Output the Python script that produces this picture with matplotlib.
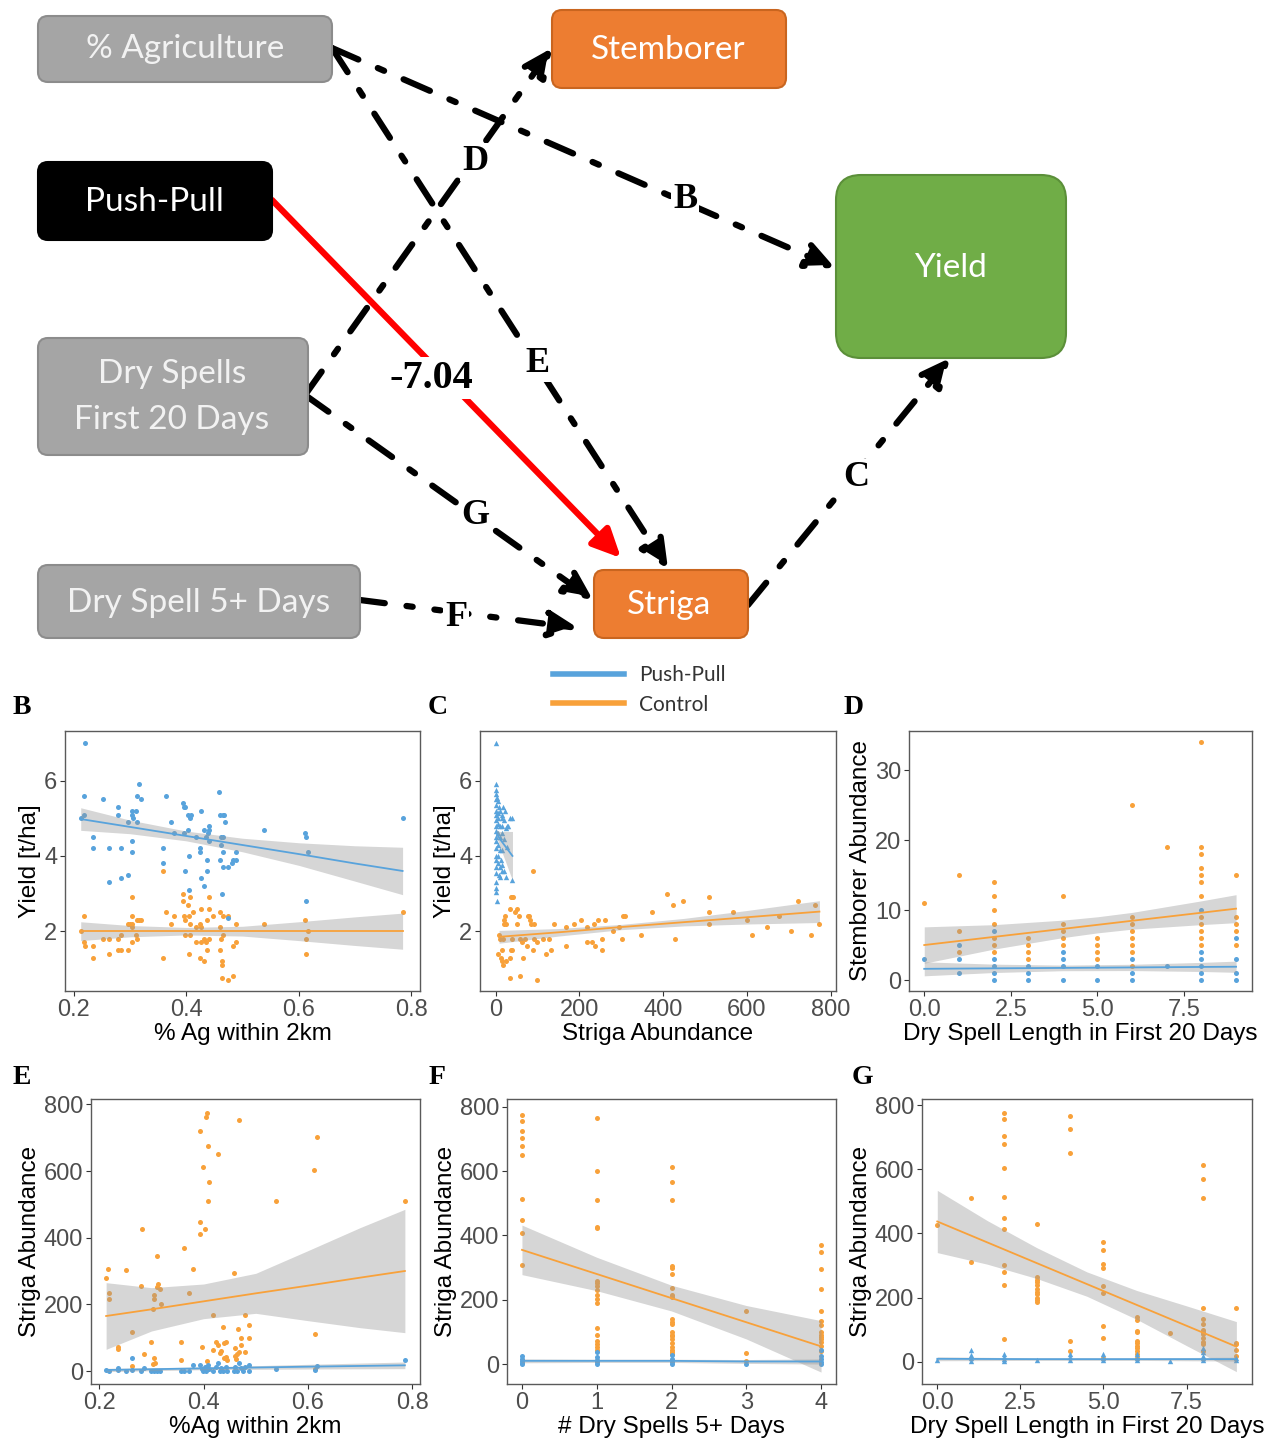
import numpy as np
import matplotlib.pyplot as plt
from matplotlib.patches import FancyBboxPatch
from matplotlib.lines import Line2D

plt.rcParams['font.family'] = ['Liberation Sans', 'DejaVu Sans']

W, H = 1273, 1443
BLUE = '#58a3dc'
ORANGE = '#f8a13a'

# ---------------- data ----------------
# B: yield vs % ag within 2km
b_pp = [(0.220, 7.0), (0.217, 5.6), (0.217, 5.1), (0.212, 5.0), (0.234, 4.5), (0.234, 4.2), (0.252, 5.5),
        (0.262, 4.2), (0.262, 3.3), (0.278, 5.3), (0.278, 5.1), (0.284, 4.2), (0.284, 3.4), (0.297, 4.9),
        (0.297, 3.5), (0.303, 5.2), (0.303, 5.1), (0.305, 5.0), (0.303, 4.4), (0.304, 4.1), (0.310, 5.2),
        (0.312, 5.6), (0.312, 4.9), (0.315, 5.9), (0.319, 5.5), (0.358, 4.2), (0.358, 3.8), (0.363, 5.6),
        (0.372, 4.9), (0.378, 4.6), (0.394, 5.4), (0.395, 5.3), (0.398, 5.3), (0.396, 4.6), (0.398, 3.6),
        (0.403, 5.1), (0.406, 5.0), (0.409, 5.1), (0.403, 4.7), (0.405, 4.0), (0.405, 3.1), (0.418, 4.5),
        (0.424, 4.2), (0.424, 4.1), (0.427, 5.2), (0.426, 3.4), (0.431, 3.2), (0.431, 4.7), (0.435, 4.5),
        (0.437, 3.9), (0.437, 3.6), (0.441, 4.8), (0.441, 4.7), (0.439, 4.6), (0.440, 4.4), (0.459, 5.7),
        (0.460, 5.1), (0.465, 5.1), (0.467, 5.1), (0.461, 4.5), (0.465, 4.5), (0.461, 4.3), (0.466, 4.1),
        (0.468, 4.9), (0.460, 3.9), (0.465, 3.7), (0.474, 3.7), (0.464, 3.0), (0.474, 2.35), (0.483, 3.9),
        (0.488, 3.9), (0.482, 3.8), (0.488, 4.1), (0.539, 4.7), (0.612, 4.6), (0.613, 4.5), (0.613, 2.8),
        (0.616, 4.1), (0.785, 5.0)]
b_ct = [(0.212, 2.0), (0.217, 2.4), (0.217, 1.7), (0.220, 1.6), (0.234, 1.6), (0.234, 1.3), (0.252, 1.8),
        (0.262, 1.8), (0.262, 1.4), (0.278, 1.8), (0.279, 1.5), (0.284, 1.9), (0.283, 1.5), (0.297, 2.2),
        (0.297, 1.5), (0.300, 2.2), (0.303, 2.2), (0.304, 2.4), (0.304, 2.9), (0.304, 2.1), (0.304, 1.7),
        (0.310, 1.9), (0.312, 1.8), (0.312, 2.3), (0.315, 2.3), (0.319, 2.3), (0.358, 3.6), (0.358, 1.3),
        (0.363, 2.5), (0.372, 2.2), (0.378, 2.4), (0.394, 3.0), (0.394, 2.8), (0.396, 2.4), (0.398, 2.3),
        (0.397, 1.9), (0.403, 2.7), (0.406, 2.9), (0.405, 2.4), (0.407, 2.2), (0.406, 1.9), (0.405, 1.4),
        (0.411, 2.5), (0.417, 1.7), (0.418, 2.1), (0.424, 2.2), (0.426, 2.6), (0.426, 1.7), (0.424, 1.3),
        (0.427, 2.1), (0.431, 1.2), (0.431, 1.8), (0.435, 1.7), (0.437, 2.3), (0.437, 1.5), (0.441, 2.9),
        (0.441, 2.6), (0.440, 1.8), (0.448, 2.4), (0.460, 2.5), (0.460, 2.1), (0.465, 2.4), (0.461, 1.8),
        (0.465, 1.9), (0.460, 1.5), (0.464, 1.2), (0.464, 1.1), (0.464, 0.75), (0.474, 0.7), (0.483, 0.8),
        (0.474, 2.4), (0.483, 1.6), (0.488, 2.2), (0.488, 1.7), (0.539, 2.2), (0.612, 2.3), (0.613, 1.8),
        (0.613, 1.4), (0.616, 2.0), (0.785, 2.5)]
b_pp_fit = dict(x=[0.212, 0.30, 0.40, 0.50, 0.60, 0.70, 0.785],
                y=[4.98, 4.77, 4.53, 4.29, 4.05, 3.80, 3.60],
                se=[0.30, 0.18, 0.13, 0.18, 0.30, 0.47, 0.63])
b_ct_fit = dict(x=[0.212, 0.30, 0.40, 0.50, 0.60, 0.70, 0.785],
                y=[2.0, 2.0, 2.0, 2.0, 2.0, 2.0, 2.0],
                se=[0.25, 0.15, 0.10, 0.13, 0.25, 0.38, 0.48])

# C: yield vs striga abundance
c_pp = [(0, 7.0), (0, 5.9), (0, 5.75), (0, 5.65), (2, 5.55), (0, 5.5), (5, 5.45), (0, 5.35), (8, 5.3),
        (0, 5.2), (5, 5.15), (10, 5.2), (0, 5.1), (6, 5.0), (0, 4.95), (5, 4.85), (0, 4.8), (10, 4.8),
        (0, 4.65), (6, 4.6), (0, 4.5), (10, 4.5), (0, 4.4), (5, 4.3), (0, 4.2), (10, 4.15), (0, 4.0),
        (6, 4.0), (0, 3.9), (5, 3.8), (0, 3.7), (10, 3.7), (0, 3.55), (8, 3.5), (0, 3.3), (0, 3.15),
        (0, 3.05), (2, 2.8), (18, 5.3), (22, 5.2), (16, 5.1), (14, 5.0), (20, 4.95), (29, 4.8), (24, 4.75),
        (34, 5.0), (40, 5.0), (16, 4.6), (20, 4.45), (26, 4.25), (16, 4.15), (20, 3.6), (25, 3.45),
        (14, 3.6), (40, 3.35), (10, 3.45), (13, 3.9), (16, 3.75), (14, 4.8), (26, 4.8)]
c_ct = [(8, 1.9), (10, 1.8), (6, 1.4), (13, 1.3), (14, 1.2), (17, 1.1), (16, 1.5), (18, 1.8), (20, 2.3),
        (22, 2.4), (20, 2.2), (24, 2.2), (25, 1.2), (33, 0.75), (34, 2.6), (37, 2.9), (40, 2.9), (42, 2.9),
        (34, 1.3), (37, 1.5), (40, 1.8), (40, 1.5), (45, 2.5), (50, 2.6), (50, 2.2), (56, 2.4), (58, 1.8),
        (58, 0.8), (62, 1.7), (66, 1.3), (70, 1.8), (74, 1.6), (76, 2.4), (80, 2.4), (82, 2.3), (88, 3.6),
        (85, 2.2), (90, 1.5), (92, 2.2), (92, 1.8), (98, 1.7), (99, 0.7), (112, 1.8), (120, 1.4),
        (127, 1.8), (132, 1.5), (139, 2.2), (168, 2.1), (168, 1.6), (187, 2.2), (203, 2.3), (217, 2.1),
        (217, 1.7), (229, 1.7), (235, 2.2), (237, 1.6), (245, 2.3), (255, 1.8), (255, 1.5), (262, 2.3),
        (280, 2.0), (295, 2.1), (302, 1.8), (304, 2.4), (309, 2.4), (347, 1.9), (373, 2.5), (410, 3.0),
        (424, 2.7), (427, 1.8), (448, 2.8), (510, 2.9), (510, 2.5), (510, 2.2), (567, 2.5), (600, 2.3),
        (613, 1.9), (649, 2.1), (677, 2.4), (704, 2.0), (722, 2.8), (754, 1.9), (763, 2.7), (773, 2.2)]
c_pp_fit = dict(x=[2, 10, 20, 30, 40], y=[4.6, 4.45, 4.3, 4.15, 4.0], se=[0.08, 0.2, 0.35, 0.5, 0.65])
c_ct_fit = dict(x=[8, 150, 300, 450, 600, 773], y=[1.85, 1.97, 2.11, 2.24, 2.37, 2.52],
                se=[0.17, 0.10, 0.07, 0.10, 0.18, 0.29])

# D: stemborer abundance vs dry spell length (values grouped by x)
d_ct = {0: [11], 1: [15, 7, 4], 2: [14, 12, 10, 8, 6, 5, 4], 3: [6, 5, 4, 3], 4: [12, 8, 7, 6, 5],
        5: [6, 5, 4, 3], 6: [25, 9, 8, 7, 6, 5, 4, 2], 7: [19],
        8: [34, 19, 18, 16, 15, 14, 12, 9, 8, 7, 6, 5], 9: [15, 9, 8, 7, 5]}
d_pp = {0: [3], 1: [5, 3, 1], 2: [7, 3, 2, 1, 0], 3: [2, 1, 0], 4: [4, 3, 2, 0], 5: [2, 0], 6: [3, 1, 0],
        7: [2], 8: [10, 4, 3, 2, 1, 0], 9: [6, 3, 1, 0]}
d_ct_fit = dict(x=[0, 2, 4, 5, 6, 8, 9], y=[5.0, 6.16, 7.31, 7.89, 8.47, 9.62, 10.2],
                se=[2.6, 1.75, 1.25, 1.15, 1.2, 1.7, 2.0])
d_pp_fit = dict(x=[0, 2, 4, 6, 8, 9], y=[1.6, 1.67, 1.73, 1.8, 1.87, 1.9],
                se=[1.0, 0.6, 0.4, 0.45, 0.65, 0.8])

# E: striga abundance vs % ag
e_ct = [(0.213, 278), (0.216, 305), (0.218, 235), (0.218, 215), (0.235, 73), (0.235, 66), (0.252, 302),
        (0.263, 15), (0.263, 118), (0.279, 254), (0.282, 426), (0.286, 52), (0.299, 86), (0.304, 40),
        (0.304, 228), (0.304, 215), (0.303, 185), (0.303, 20), (0.307, 23), (0.310, 346), (0.311, 253),
        (0.313, 261), (0.317, 246), (0.318, 201), (0.357, 86), (0.357, 33), (0.363, 370), (0.372, 233),
        (0.379, 307), (0.394, 721), (0.394, 448), (0.394, 411), (0.397, 73), (0.398, 612), (0.402, 426),
        (0.404, 763), (0.407, 773), (0.406, 31), (0.408, 676), (0.408, 511), (0.411, 568), (0.418, 168),
        (0.418, 63), (0.424, 88), (0.428, 650), (0.428, 78), (0.431, 53), (0.434, 60), (0.438, 133),
        (0.440, 83), (0.440, 38), (0.443, 88), (0.443, 41), (0.445, 33), (0.458, 293), (0.461, 46),
        (0.461, 70), (0.463, 36), (0.464, 50), (0.465, 126), (0.467, 753), (0.467, 56), (0.472, 98),
        (0.472, 78), (0.480, 168), (0.480, 58), (0.487, 138), (0.487, 98), (0.539, 510), (0.612, 602),
        (0.614, 110), (0.617, 703), (0.614, 6), (0.786, 510)]
e_pp = [(0.213, 3), (0.218, 0), (0.235, 10), (0.235, 3), (0.252, 0), (0.263, 38), (0.263, 3), (0.279, 0),
        (0.286, 8), (0.299, 0), (0.304, 0), (0.310, 0), (0.317, 0), (0.357, 0), (0.363, 0), (0.372, 0),
        (0.379, 18), (0.394, 18), (0.397, 6), (0.398, 0), (0.402, 13), (0.404, 0), (0.408, 18), (0.411, 6),
        (0.418, 0), (0.424, 13), (0.428, 23), (0.431, 0), (0.434, 8), (0.438, 0), (0.443, 13), (0.445, 0),
        (0.458, 0), (0.461, 13), (0.464, 0), (0.467, 23), (0.472, 8), (0.475, 0), (0.480, 13), (0.487, 18),
        (0.487, 0), (0.539, 6), (0.614, 3), (0.617, 16), (0.786, 34)]
e_ct_fit = dict(x=[0.213, 0.3, 0.4, 0.5, 0.6, 0.7, 0.786], y=[165, 185, 209, 233, 256, 280, 300],
                se=[100, 65, 52, 60, 105, 150, 185])
e_pp_fit = dict(x=[0.213, 0.4, 0.6, 0.786], y=[3, 8, 13, 17], se=[5, 4, 7, 10])

# F: striga abundance vs number of dry spells 5+ days
f_ct = {0: [774, 755, 723, 703, 677, 649, 512, 449, 408, 308],
        1: [764, 600, 509, 426, 423, 259, 252, 243, 231, 216, 202, 189, 112, 89, 71, 62, 53, 43],
        2: [613, 567, 509, 305, 299, 280, 237, 215, 210, 141, 132, 125, 100, 91, 86, 79, 64, 53, 45, 38, 32],
        3: [166, 35, 10],
        4: [370, 348, 295, 234, 166, 133, 120, 100, 91, 84, 77, 69, 55, 42]}
f_pp = {0: [26, 17, 10, 4, 0], 1: [38, 21, 12, 5, 0], 2: [28, 15, 7, 0], 3: [0], 4: [43, 26, 15, 7, 0]}
f_ct_fit = dict(x=[0, 1, 2, 3, 4], y=[355, 280, 205, 130, 55], se=[77, 52, 40, 52, 80])
f_pp_fit = dict(x=[0, 1, 2, 3, 4], y=[10, 10, 10, 8, 8], se=[6, 5, 5, 6, 8])

# G: striga abundance vs dry spell length
g_ct = {0: [426], 1: [511, 310], 2: [776, 756, 704, 677, 603, 512, 449, 412, 301, 278, 238, 72],
        3: [428, 264, 255, 247, 239, 226, 218, 210, 200, 191, 185], 4: [766, 724, 651, 63, 33],
        5: [374, 348, 304, 293, 237, 215, 111, 75, 10], 6: [140, 130, 96, 91, 64, 57, 49, 42, 33, 23, 10],
        7: [90], 8: [613, 568, 511, 166, 133, 119, 99, 91, 85, 75, 62, 54, 33], 9: [166, 59, 54, 36, 19]}
g_pp = {0: [5], 1: [36, 21, 10, 2], 2: [25, 16, 8, 2], 3: [4], 4: [23, 14, 5], 5: [25, 12, 4],
        6: [23, 12, 4], 7: [2], 8: [44, 29, 19, 10, 4], 9: [12, 4]}
g_ct_fit = dict(x=[0, 1.5, 3, 4.5, 6, 7.5, 9], y=[437, 372, 307, 242, 177, 112, 47],
                se=[97, 68, 48, 38, 45, 62, 78])
g_pp_fit = dict(x=[0, 3, 6, 9], y=[9, 8, 8, 8], se=[6, 4, 4, 6])


def pairs(p):
    a = np.array(p, dtype=float)
    return a[:, 0], a[:, 1]


def groups(g):
    xs = [k for k, v in g.items() for _ in v]
    ys = [y for v in g.values() for y in v]
    return np.array(xs, float), np.array(ys, float)


fig = plt.figure(figsize=(W / 100, H / 100), dpi=100)

# ---------------- path diagram (pixel coordinates) ----------------
dg = fig.add_axes([0, 0, 1, 1])
dg.set_xlim(0, W)
dg.set_ylim(H, 0)
dg.axis('off')


def box(x0, y0, x1, y1, fc, ec, r=10):
    dg.add_patch(FancyBboxPatch((x0, y0), x1 - x0, y1 - y0,
                                boxstyle=f'round,pad=0,rounding_size={r}',
                                fc=fc, ec=ec, lw=1.5, zorder=3))


def btext(x, y, s, color='white', size=24):
    dg.text(x, y, s, color=color, fontsize=size, family=['Lato', 'DejaVu Sans'],
            ha='center', va='center', zorder=4)


box(38, 16, 332, 82, '#a5a5a5', '#8c8c8c')
btext(185, 49, '% Agriculture', '#f2f2f2')
box(552, 10, 786, 88, '#ed7d31', '#c9651f')
btext(668, 50, 'Stemborer')
box(38, 162, 272, 240, '#000000', '#000000')
btext(154, 202, 'Push-Pull')
box(836, 175, 1066, 358, '#70ad47', '#5b8f39', r=25)
btext(950, 268, 'Yield')
box(38, 338, 308, 455, '#a5a5a5', '#8c8c8c')
btext(172, 374, 'Dry Spells', '#f2f2f2')
btext(172, 420, 'First 20 Days', '#f2f2f2')
box(38, 565, 360, 638, '#a5a5a5', '#8c8c8c')
btext(199, 603, 'Dry Spell 5+ Days', '#f2f2f2')
box(594, 570, 748, 638, '#ed7d31', '#c9651f')
btext(669, 605, 'Striga')

DASHDOT = (0, (4.6, 3.4, 1.1, 3.4))
DOTS = (0, (4, 3.5, 1, 3.5, 1, 3.5, 1, 3.5, 1, 3.5))


def arrow(p0, p1, ls, color='black'):
    dg.annotate('', xy=p1, xytext=p0, zorder=2,
                arrowprops=dict(arrowstyle='-|>,head_length=0.95,head_width=0.45',
                                mutation_scale=18, lw=4.5, color=color, linestyle=ls,
                                shrinkA=0, shrinkB=0))


arrow((332, 48), (835, 268), DASHDOT)   # B
arrow((332, 48), (668, 569), DASHDOT)   # E
arrow((305, 395), (552, 48), DASHDOT)   # D
arrow((305, 395), (593, 600), DASHDOT)  # G
arrow((360, 600), (578, 628), DOTS)     # F
arrow((748, 605), (950, 358), DASHDOT)  # C
arrow((272, 200), (621, 558), '-', color='red')


def elabel(x, y, s, size=26):
    dg.text(x, y, s, fontsize=size, fontweight='bold', family='Liberation Serif',
            ha='center', va='center', zorder=5,
            bbox=dict(fc='white', ec='none', pad=1.5))


elabel(475, 162, 'D')
elabel(685, 200, 'B')
elabel(538, 363, 'E')
elabel(431, 378, '-7.04', size=29)
elabel(856, 478, 'C')
elabel(475, 515, 'G')
elabel(456, 618, 'F')

for s, x, y in [('B', 22, 708), ('C', 438, 708), ('D', 854, 708),
                ('E', 22, 1077), ('F', 437, 1077), ('G', 862, 1077)]:
    dg.text(x, y, s, fontsize=20, fontweight='bold', family='Liberation Serif',
            ha='center', va='center')

fig.legend(handles=[Line2D([], [], color=BLUE, lw=4), Line2D([], [], color=ORANGE, lw=4)],
           labels=['Push-Pull', 'Control'], loc='upper left',
           bbox_to_anchor=(545 / W, 1 - 657 / H), frameon=False,
           prop=dict(family='Lato', size=15), labelcolor='#333333',
           handlelength=3.4, labelspacing=0.45, handletextpad=0.7, borderaxespad=0)


# ---------------- scatter panels ----------------
def panel(rect, pp, ct, fits, xlim, ylim, xticks, xticklabels, yticks, xlabel, ylabel, pp_marker='o'):
    l, t, r, b = rect
    ax = fig.add_axes([l / W, 1 - b / H, (r - l) / W, (b - t) / H])
    ax.scatter(*ct, s=13, color=ORANGE, lw=0, zorder=2)
    ax.scatter(*pp, s=15 if pp_marker == '^' else 13, marker=pp_marker, color=BLUE, lw=0, zorder=2)
    for f, col in fits:
        fx = np.array(f['x'], float)
        fy = np.array(f['y'], float)
        fs = np.array(f['se'], float)
        ax.fill_between(fx, fy - fs, fy + fs, color='#999999', alpha=0.4, lw=0, zorder=3)
        ax.plot(fx, fy, color=col, lw=1.3, zorder=4)
    ax.set_xlim(*xlim)
    ax.set_ylim(*ylim)
    ax.set_xticks(xticks)
    ax.set_xticklabels(xticklabels)
    ax.set_yticks(yticks)
    ax.tick_params(direction='out', length=3.5, width=0.8, color='#333333',
                   labelsize=17, labelcolor='#4d4d4d', pad=2)
    for sp in ax.spines.values():
        sp.set_color('#5a5a5a')
        sp.set_linewidth(1.0)
    ax.set_xlabel(xlabel, fontsize=17.5, color='black', labelpad=2)
    ax.set_ylabel(ylabel, fontsize=17.5, color='black', labelpad=2)
    return ax


panel((65, 731, 420, 991), pairs(b_pp), pairs(b_ct), [(b_pp_fit, BLUE), (b_ct_fit, ORANGE)],
      (0.184, 0.816), (0.41, 7.32), [0.2, 0.4, 0.6, 0.8], ['0.2', '0.4', '0.6', '0.8'], [2, 4, 6],
      '% Ag within 2km', 'Yield [t/ha]')
panel((480, 731, 836, 991), pairs(c_pp), pairs(c_ct), [(c_pp_fit, BLUE), (c_ct_fit, ORANGE)],
      (-37.5, 812.6), (0.41, 7.32), [0, 200, 400, 600, 800], ['0', '200', '400', '600', '800'], [2, 4, 6],
      'Striga Abundance', 'Yield [t/ha]', pp_marker='^')
panel((909, 731, 1252, 991), groups(d_pp), groups(d_ct), [(d_ct_fit, ORANGE), (d_pp_fit, BLUE)],
      (-0.44, 9.46), (-1.57, 35.6), [0, 2.5, 5, 7.5], ['0.0', '2.5', '5.0', '7.5'], [0, 10, 20, 30],
      'Dry Spell Length in First 20 Days', 'Stemborer Abundance')
panel((91, 1099, 420, 1384), pairs(e_pp), pairs(e_ct), [(e_ct_fit, ORANGE), (e_pp_fit, BLUE)],
      (0.184, 0.815), (-39, 816), [0.2, 0.4, 0.6, 0.8], ['0.2', '0.4', '0.6', '0.8'],
      [0, 200, 400, 600, 800], '%Ag within 2km', 'Striga Abundance')
panel((507, 1099, 836, 1384), groups(f_pp), groups(f_ct), [(f_ct_fit, ORANGE), (f_pp_fit, BLUE)],
      (-0.2, 4.2), (-62, 824), [0, 1, 2, 3, 4], ['0', '1', '2', '3', '4'],
      [0, 200, 400, 600, 800], '# Dry Spells 5+ Days', 'Striga Abundance')
panel((922, 1099, 1252, 1384), groups(g_pp), groups(g_ct), [(g_ct_fit, ORANGE), (g_pp_fit, BLUE)],
      (-0.46, 9.47), (-69.5, 818.7), [0, 2.5, 5, 7.5], ['0.0', '2.5', '5.0', '7.5'],
      [0, 200, 400, 600, 800], 'Dry Spell Length in First 20 Days', 'Striga Abundance', pp_marker='^')

fig.savefig('out.png', dpi=100)
